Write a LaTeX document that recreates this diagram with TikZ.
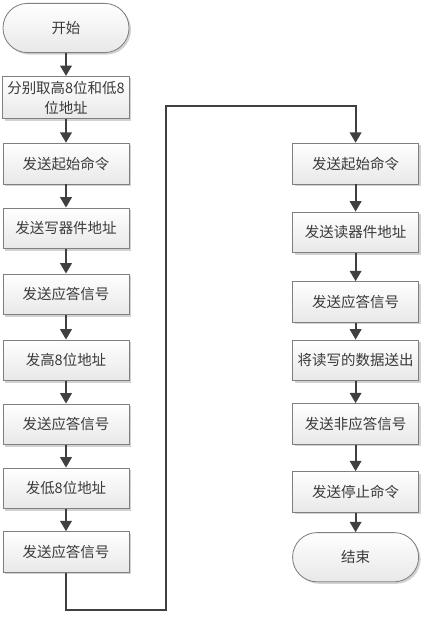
\documentclass[tikz,border=0pt]{standalone}
\usepackage{fontspec}
\usepackage{tikz}
\usetikzlibrary{arrows.meta, shadows}
\newfontfamily\cjk{Noto Sans CJK SC}
\definecolor{boxline}{HTML}{7F7F7F}
\definecolor{linkgray}{HTML}{404040}
\definecolor{boxtext}{HTML}{3A3A3A}
\tikzset{
	terminal/.style={rectangle, rounded corners=0.61cm, minimum width=3.15cm, minimum height=1.23cm, align=center, draw=boxline, line width=0.6pt, top color=white, bottom color=black!9, drop shadow={shadow xshift=0.05cm, shadow yshift=-0.05cm, fill=black!35, opacity=0.5}, text=boxtext, font=\cjk\fontsize{10.3}{14}\selectfont},
	action/.style={rectangle, minimum width=3.15cm, minimum height=1.02cm, align=center, draw=boxline, line width=0.6pt, top color=white, bottom color=black!9, drop shadow={shadow xshift=0.05cm, shadow yshift=-0.05cm, fill=black!35, opacity=0.5}, text=boxtext, font=\cjk\fontsize{10.3}{14}\selectfont},
	arrow/.style={linkgray, line width=1.4pt, -{Triangle[length=2.6mm, width=2.9mm]}}
}
\begin{document}
\begin{tikzpicture}
		\useasboundingbox (0,0) rectangle (10.625,-15.675);
		
		% Left column: write phase
		\node [terminal] (start) at (1.65,-0.70) {开始};
		\node [action] (split) at (1.65,-2.44) {分别取高8位和低8\\位地址};
		\node [action] (l1) at (1.65,-4.09) {发送起始命令};
		\node [action] (l2) at (1.65,-5.71) {发送写器件地址};
		\node [action] (l3) at (1.65,-7.36) {发送应答信号};
		\node [action] (l4) at (1.65,-9.01) {发高8位地址};
		\node [action] (l5) at (1.65,-10.61) {发送应答信号};
		\node [action] (l6) at (1.65,-12.21) {发低8位地址};
		\node [action] (l7) at (1.65,-13.80) {发送应答信号};
		
		% Right column: read phase
		\node [action] (r1) at (8.89,-4.09) {发送起始命令};
		\node [action] (r2) at (8.89,-5.81) {发送读器件地址};
		\node [action] (r3) at (8.89,-7.55) {发送应答信号};
		\node [action] (r4) at (8.89,-9.01) {将读写的数据送出};
		\node [action] (r5) at (8.89,-10.60) {发送非应答信号};
		\node [action] (r6) at (8.89,-12.30) {发送停止命令};
		\node [terminal] (stop) at (8.89,-13.93) {结束};
		
		% Arrows
		\draw [arrow] (start) -- (split);
		\draw [arrow] (split) -- (l1);
		\draw [arrow] (l1) -- (l2);
		\draw [arrow] (l2) -- (l3);
		\draw [arrow] (l3) -- (l4);
		\draw [arrow] (l4) -- (l5);
		\draw [arrow] (l5) -- (l6);
		\draw [arrow] (l6) -- (l7);
		
		% Jump to the read phase
		\coordinate (bottom) at (1.65,-15.25);
		\coordinate (turn) at (4.16,-2.64);
		\draw [arrow, line join=miter] (l7.south) -- (bottom) -| (turn) -| (r1.north);
		
		\draw [arrow] (r1) -- (r2);
		\draw [arrow] (r2) -- (r3);
		\draw [arrow] (r3) -- (r4);
		\draw [arrow] (r4) -- (r5);
		\draw [arrow] (r5) -- (r6);
		\draw [arrow] (r6) -- (stop);
	\end{tikzpicture}
\end{document}
